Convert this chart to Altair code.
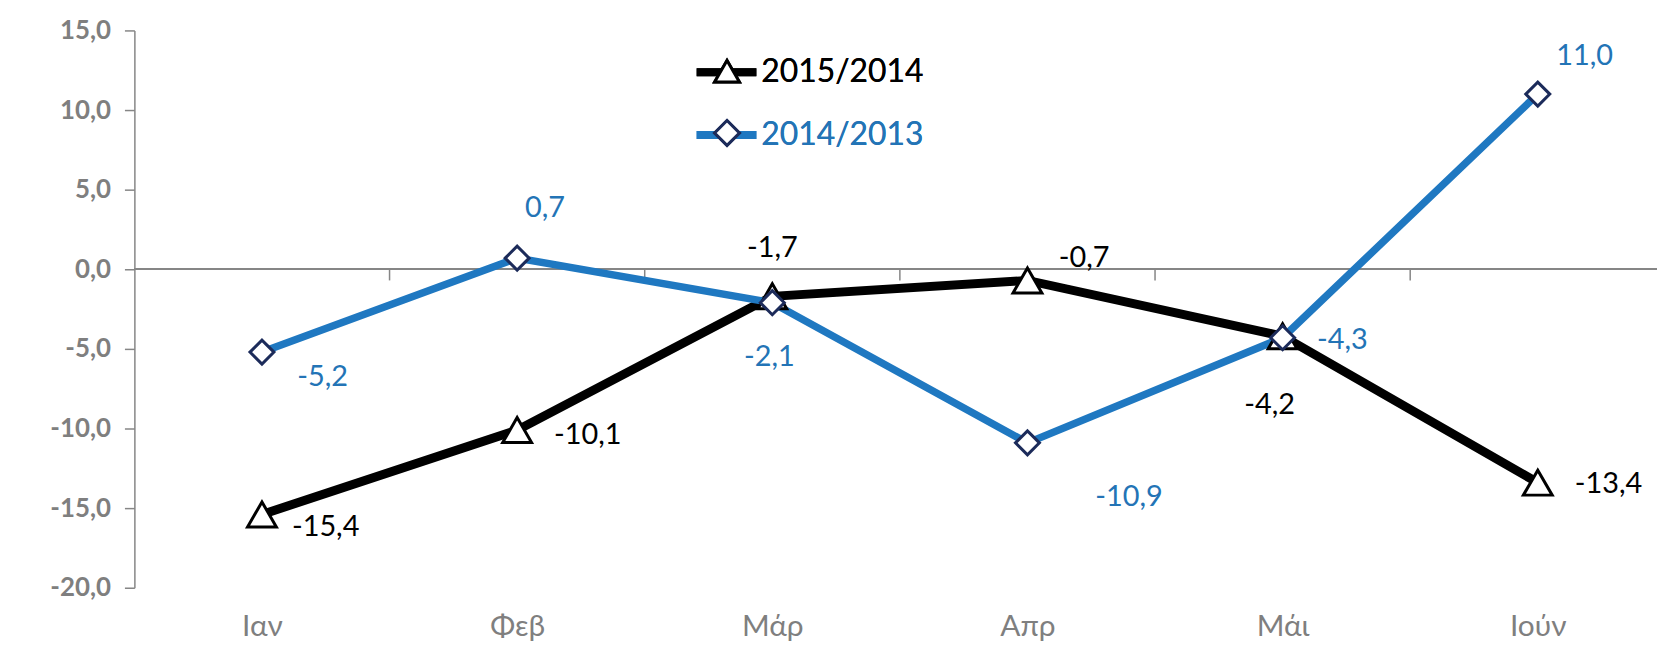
import altair as alt
import pandas as pd

# ---------------- data ----------------
months = ["Ιαν", "Φεβ", "Μάρ", "Απρ", "Μάι", "Ιούν"]
series_names = ["2015/2014", "2014/2013"]
values_2015 = [-15.4, -10.1, -1.7, -0.7, -4.2, -13.4]
values_2014 = [-5.2, 0.7, -2.1, -10.9, -4.3, 11.0]
y_ticks = [-20, -15, -10, -5, 0, 5, 10, 15]

rows = []
for name, vals in zip(series_names, [values_2015, values_2014]):
    for i, (m, v) in enumerate(zip(months, vals)):
        rows.append({"month": m, "pos": i + 0.5, "series": name, "mseries": name,
                     "value": v, "label": f"{v:.1f}".replace(".", ",")})
df = pd.DataFrame(rows)
bounds = pd.DataFrame({"b": list(range(1, len(months)))})

# ---------------- styling / layout ----------------
BLACK = "#000000"
BLUE = "#1F78C1"
BLUE_TXT = "#2374B6"
NAVY = "#1C2B5A"
GRAY = "#868686"
LBL_GRAY = "#7F7F7F"
FONT = "Lato"

W, H = 1522, 560
BAND = 256.4
xscale = alt.Scale(domain=[0, W / BAND], nice=False, zero=False)
yscale = alt.Scale(domain=[-20, 15], nice=False, zero=False)

label_expr = "[" + ",".join(f"'{m}'" for m in months) + "][floor(datum.value)]"
xaxis = alt.Axis(values=[i + 0.5 for i in range(len(months))], labelExpr=label_expr,
                 domain=False, ticks=False, grid=False, labelFont=FONT, labelFontSize=30,
                 labelColor=LBL_GRAY, labelPadding=24, labelBaseline="top", title=None,
                 labelFlush=False, labelOverlap=False)
yaxis = alt.Axis(values=y_ticks,
                 labelExpr="(datum.value < 0 ? '-' : '') + replace(format(abs(datum.value), '.1f'), '.', ',')",
                 domainColor=GRAY, domainWidth=1.5, tickColor=GRAY, tickWidth=1.5, tickSize=10,
                 labelFont=FONT, labelFontWeight="bold", labelFontSize=26, labelColor=LBL_GRAY,
                 labelPadding=14, grid=False, title=None)

X = alt.X("pos:Q", scale=xscale, axis=xaxis, title=None)
Y = alt.Y("value:Q", scale=yscale, axis=yaxis, title=None)

color_scale = alt.Scale(domain=series_names, range=[BLACK, BLUE])
line_legend = alt.Legend(orient="none", legendX=561, legendY=8, direction="vertical",
                         symbolType="stroke", symbolSize=3600, symbolStrokeWidth=8,
                         labelFont=FONT, labelFontSize=32, labelOffset=1, rowPadding=13,
                         padding=0, title=None, labelLimit=0,
                         labelColor=alt.ExprRef(expr=f"datum.value == '{series_names[1]}' ? '{BLUE_TXT}' : '{BLACK}'"))
point_legend = alt.Legend(orient="none", legendX=580, legendY=25.5, direction="vertical",
                          symbolSize=620, symbolStrokeWidth=3, symbolFillColor="white",
                          labelFont=FONT, labelFontSize=31, labelExpr="''", rowPadding=26,
                          labelOffset=20, padding=0, title=None)

# zero line and category ticks
zero = alt.Chart(df).mark_rule(color=GRAY, strokeWidth=1.5).encode(
    y=alt.Y(datum=0, scale=yscale, axis=yaxis),
    x=alt.value(0), x2=alt.value(W + 8))
cat_ticks = alt.Chart(bounds).mark_rule(color=GRAY, strokeWidth=1.5).encode(
    x=alt.X("b:Q", scale=xscale, axis=xaxis),
    y=alt.Y(datum=0, scale=yscale, axis=yaxis),
    y2=alt.Y2(datum=-0.7))

lines = []
for name, w in zip(series_names, [9.0, 7.5]):
    lines.append(alt.Chart(df).transform_filter(alt.datum.series == name)
                 .mark_line(strokeWidth=w)
                 .encode(x=X, y=Y, color=alt.Color("series:N", scale=color_scale, legend=line_legend)))

shape_scale = alt.Scale(domain=series_names, range=["triangle-up", "diamond"])
stroke_scale = alt.Scale(domain=series_names, range=[BLACK, NAVY])
size_scale = alt.Scale(domain=series_names, range=[840, 580])
points = []
for name in series_names:
    points.append(alt.Chart(df).transform_filter(alt.datum.mseries == name)
                  .mark_point(filled=True, fill="white", opacity=1, strokeWidth=3)
                  .encode(x=X, y=Y,
                          shape=alt.Shape("mseries:N", scale=shape_scale, legend=point_legend),
                          stroke=alt.Stroke("mseries:N", scale=stroke_scale, legend=point_legend),
                          size=alt.Size("mseries:N", scale=size_scale, legend=None)))

label_offsets = {
    "2015/2014": [(64, 13), (71, 5), (0, -49), (57, -22), (-13, 69), (71, 1)],
    "2014/2013": [(61, 25), (28, -50), (-3, 55), (102, 54), (60, 2), (47, -38)],
}
label_colors = {"2015/2014": BLACK, "2014/2013": BLUE_TXT}
texts = []
for name in series_names:
    for m, (dx, dy) in zip(months, label_offsets[name]):
        texts.append(alt.Chart(df)
                     .transform_filter((alt.datum.series == name) & (alt.datum.month == m))
                     .mark_text(dx=dx, dy=dy, font=FONT, fontSize=29, color=label_colors[name],
                                align="center", baseline="middle")
                     .encode(x=X, y=Y, text="label:N"))

chart = alt.layer(zero, cat_ticks, *lines, *points, *texts).resolve_legend(
    color="independent", stroke="independent", shape="independent"
).properties(
    width=W, height=H,
    autosize=alt.AutoSizeParams(type="none"),
    padding={"left": 127, "top": 21, "right": 8, "bottom": 55},
    background="white",
).configure_view(stroke=None)

chart.save("out.html", embed_options={"renderer": "svg", "actions": False})
